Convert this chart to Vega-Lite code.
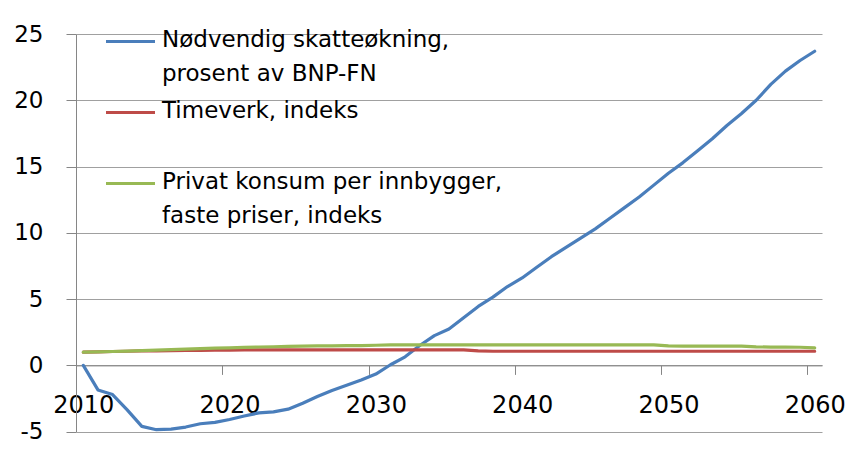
{
  "$schema": "https://vega.github.io/schema/vega-lite/v6.json",
  "width": 746,
  "height": 397.7,
  "autosize": {"type": "none"},
  "padding": {"left": 76, "top": 34, "right": 28, "bottom": 19.3},
  "config": {"view": {"stroke": null}, "font": "DejaVu Sans"},
  "data": {"values": [
    {"year": 2010, "skatt": 0, "timeverk": 1.0, "konsum": 1.0},
    {"year": 2011, "skatt": -1.85, "timeverk": 1.02, "konsum": 1.02},
    {"year": 2012, "skatt": -2.2, "timeverk": 1.05, "konsum": 1.05},
    {"year": 2013, "skatt": -3.35, "timeverk": 1.07, "konsum": 1.08},
    {"year": 2014, "skatt": -4.6, "timeverk": 1.09, "konsum": 1.12},
    {"year": 2015, "skatt": -4.85, "timeverk": 1.1, "konsum": 1.15},
    {"year": 2016, "skatt": -4.8, "timeverk": 1.12, "konsum": 1.19},
    {"year": 2017, "skatt": -4.65, "timeverk": 1.13, "konsum": 1.23},
    {"year": 2018, "skatt": -4.4, "timeverk": 1.14, "konsum": 1.27},
    {"year": 2019, "skatt": -4.3, "timeverk": 1.15, "konsum": 1.3},
    {"year": 2020, "skatt": -4.08, "timeverk": 1.16, "konsum": 1.33},
    {"year": 2021, "skatt": -3.82, "timeverk": 1.17, "konsum": 1.36},
    {"year": 2022, "skatt": -3.58, "timeverk": 1.17, "konsum": 1.39},
    {"year": 2023, "skatt": -3.5, "timeverk": 1.17, "konsum": 1.41},
    {"year": 2024, "skatt": -3.3, "timeverk": 1.17, "konsum": 1.43},
    {"year": 2025, "skatt": -2.85, "timeverk": 1.17, "konsum": 1.45},
    {"year": 2026, "skatt": -2.35, "timeverk": 1.17, "konsum": 1.47},
    {"year": 2027, "skatt": -1.9, "timeverk": 1.17, "konsum": 1.48},
    {"year": 2028, "skatt": -1.5, "timeverk": 1.17, "konsum": 1.49},
    {"year": 2029, "skatt": -1.1, "timeverk": 1.17, "konsum": 1.5},
    {"year": 2030, "skatt": -0.65, "timeverk": 1.17, "konsum": 1.52},
    {"year": 2031, "skatt": 0.05, "timeverk": 1.17, "konsum": 1.55},
    {"year": 2032, "skatt": 0.65, "timeverk": 1.17, "konsum": 1.55},
    {"year": 2033, "skatt": 1.5, "timeverk": 1.17, "konsum": 1.55},
    {"year": 2034, "skatt": 2.25, "timeverk": 1.17, "konsum": 1.55},
    {"year": 2035, "skatt": 2.75, "timeverk": 1.17, "konsum": 1.55},
    {"year": 2036, "skatt": 3.6, "timeverk": 1.17, "konsum": 1.55},
    {"year": 2037, "skatt": 4.45, "timeverk": 1.1, "konsum": 1.55},
    {"year": 2038, "skatt": 5.15, "timeverk": 1.07, "konsum": 1.55},
    {"year": 2039, "skatt": 5.95, "timeverk": 1.07, "konsum": 1.55},
    {"year": 2040, "skatt": 6.6, "timeverk": 1.07, "konsum": 1.55},
    {"year": 2041, "skatt": 7.4, "timeverk": 1.07, "konsum": 1.55},
    {"year": 2042, "skatt": 8.2, "timeverk": 1.07, "konsum": 1.55},
    {"year": 2043, "skatt": 8.9, "timeverk": 1.07, "konsum": 1.55},
    {"year": 2044, "skatt": 9.6, "timeverk": 1.07, "konsum": 1.55},
    {"year": 2045, "skatt": 10.3, "timeverk": 1.07, "konsum": 1.55},
    {"year": 2046, "skatt": 11.1, "timeverk": 1.07, "konsum": 1.55},
    {"year": 2047, "skatt": 11.9, "timeverk": 1.07, "konsum": 1.55},
    {"year": 2048, "skatt": 12.7, "timeverk": 1.07, "konsum": 1.55},
    {"year": 2049, "skatt": 13.6, "timeverk": 1.07, "konsum": 1.55},
    {"year": 2050, "skatt": 14.5, "timeverk": 1.07, "konsum": 1.48},
    {"year": 2051, "skatt": 15.3, "timeverk": 1.07, "konsum": 1.45},
    {"year": 2052, "skatt": 16.2, "timeverk": 1.07, "konsum": 1.45},
    {"year": 2053, "skatt": 17.1, "timeverk": 1.07, "konsum": 1.45},
    {"year": 2054, "skatt": 18.1, "timeverk": 1.07, "konsum": 1.45},
    {"year": 2055, "skatt": 19.0, "timeverk": 1.07, "konsum": 1.45},
    {"year": 2056, "skatt": 20.0, "timeverk": 1.07, "konsum": 1.4},
    {"year": 2057, "skatt": 21.2, "timeverk": 1.07, "konsum": 1.38},
    {"year": 2058, "skatt": 22.2, "timeverk": 1.07, "konsum": 1.38},
    {"year": 2059, "skatt": 23.0, "timeverk": 1.07, "konsum": 1.37},
    {"year": 2060, "skatt": 23.7, "timeverk": 1.07, "konsum": 1.32}
  ]},
  "transform": [{"fold": ["skatt", "timeverk", "konsum"], "as": ["serie", "verdi"]}],
  "mark": {"type": "line", "strokeWidth": 3.2, "strokeCap": "round", "strokeJoin": "round"},
  "encoding": {
    "x": {
      "field": "year", "type": "quantitative",
      "scale": {"domain": [2009.5, 2060.5], "nice": false, "zero": false},
      "axis": {
        "values": [2010, 2020, 2030, 2040, 2050, 2060], "format": "d", "title": null,
        "offset": -66.3, "grid": false, "domainColor": "#868686", "tickColor": "#868686",
        "tickSize": 9, "tickOffset": -7.3, "labelOffset": 7.3, "labelFontSize": 24,
        "labelColor": "#000000", "labelPadding": 19, "labelFlush": false, "labelOverlap": false
      }
    },
    "y": {
      "field": "verdi", "type": "quantitative",
      "scale": {"domain": [-5, 25], "nice": false},
      "axis": {
        "values": [-5, 0, 5, 10, 15, 20, 25], "title": null, "grid": true,
        "gridColor": "#a0a0a0", "domainColor": "#868686", "tickColor": "#868686",
        "tickSize": 10, "labelFontSize": 23, "labelPadding": 23, "labelColor": "#000000",
        "labelExpr": "datum.value + ''"
      }
    },
    "color": {
      "field": "serie", "type": "nominal",
      "scale": {"domain": ["skatt", "timeverk", "konsum"], "range": ["#4A7EBB", "#BE4B48", "#98B954"]},
      "legend": {
        "orient": "none", "legendX": 28, "legendY": -19, "title": null, "direction": "vertical",
        "symbolType": "stroke", "symbolSize": 2401, "symbolStrokeWidth": 3.2,
        "labelFontSize": 23, "labelColor": "#000000", "labelOffset": 5, "labelLimit": 0,
        "labelBaseline": "alphabetic", "rowPadding": -15, "gridAlign": "all", "padding": 0,
        "labelExpr": "datum.value == 'skatt' ? ['Nødvendig skatteøkning,', 'prosent av BNP-FN'] : datum.value == 'timeverk' ? ['Timeverk, indeks', '\u200b'] : ['Privat konsum per innbygger,', 'faste priser, indeks']",
        "encode": {"labels": {"update": {"dy": {"value": 5}, "lineHeight": {"value": 34}}}}
      }
    }
  }
}
